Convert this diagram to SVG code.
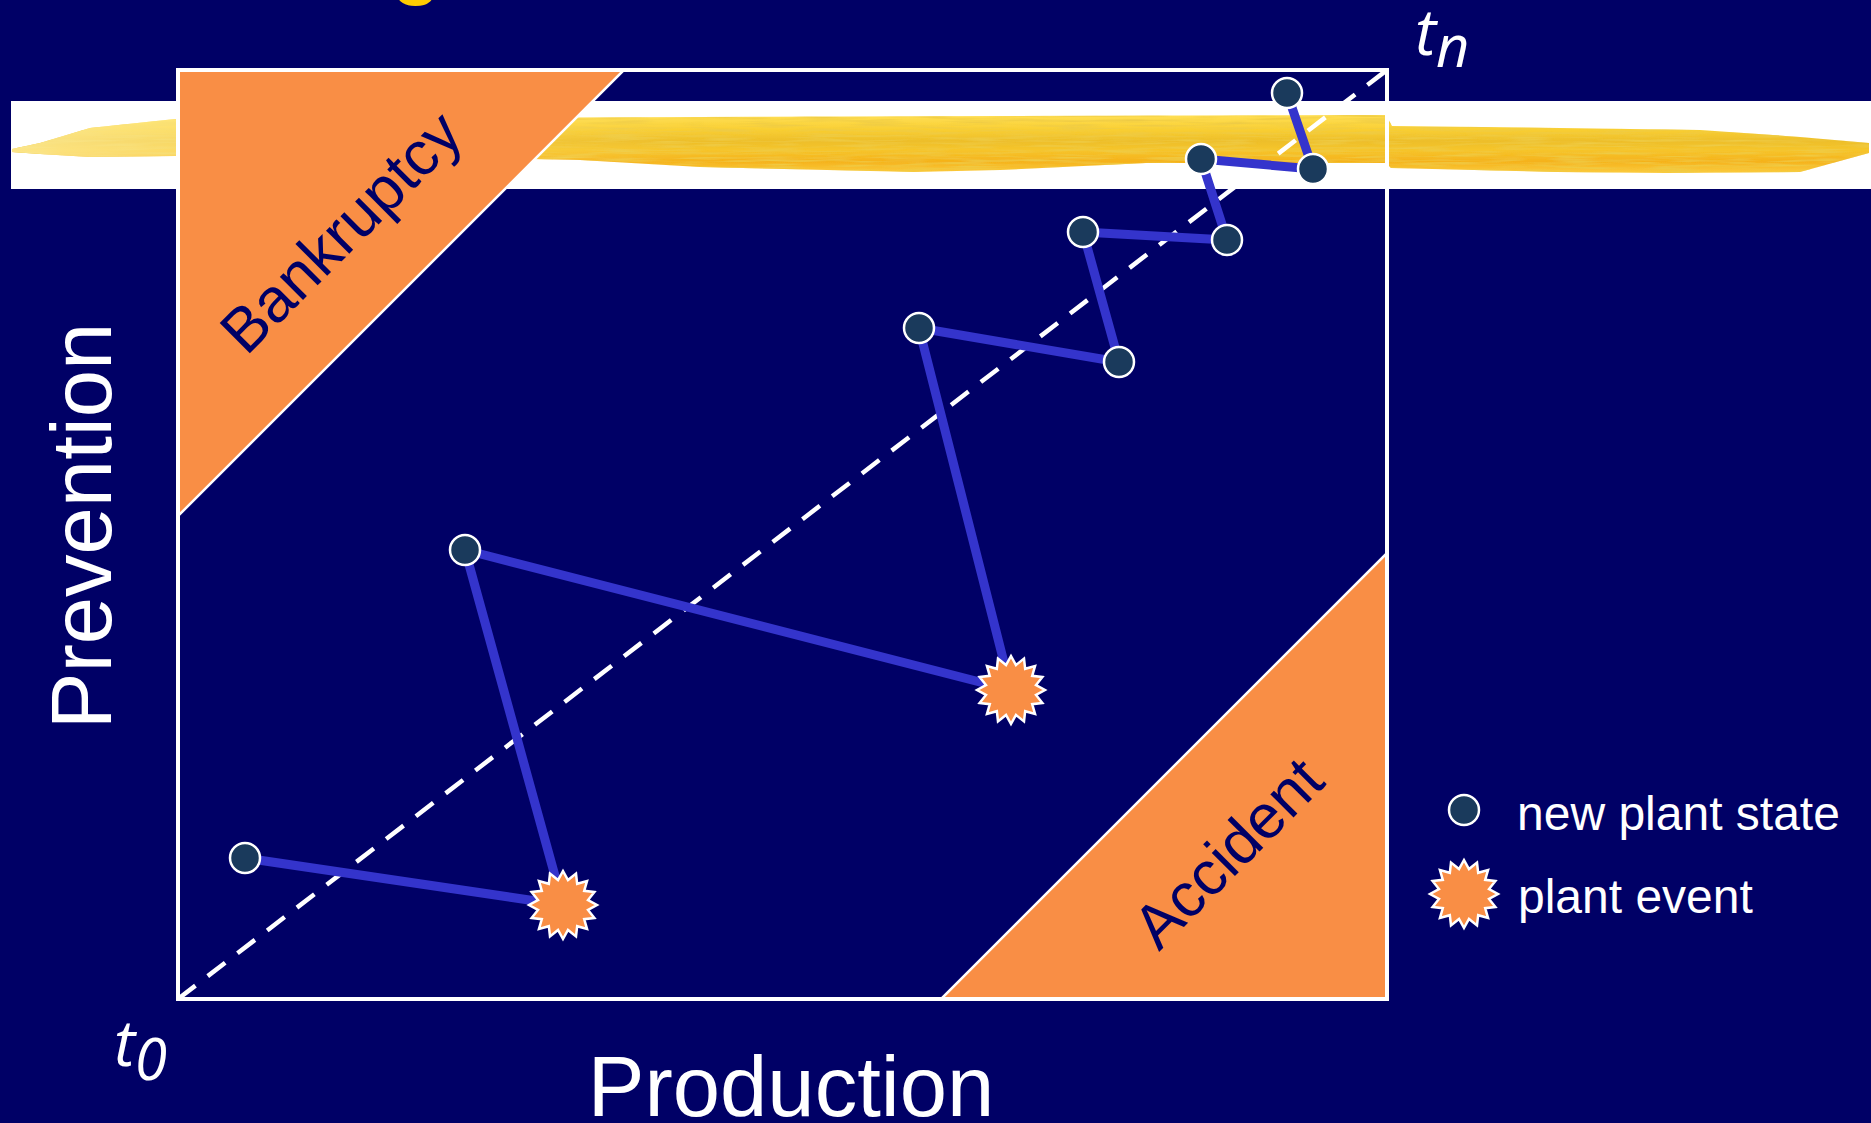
<svg xmlns="http://www.w3.org/2000/svg" xmlns:xlink="http://www.w3.org/1999/xlink" width="1871" height="1123" viewBox="0 0 1871 1123">
  <style>
    .zone { fill: #F98E45; stroke: #FFFFFF; stroke-width: 2.5; stroke-linejoin: miter; }
    .zone-label { font-family: "Liberation Sans", Arial, sans-serif; font-size: 62px; fill: #000066; }
    .axis { font-family: "Liberation Sans", Arial, sans-serif; font-size: 85px; fill: #FFFFFF; }
    .time { font-family: "Open Sans", "DejaVu Sans", sans-serif; font-style: italic; font-size: 64px; fill: #FFFFFF; }
    .legend { font-family: "Liberation Sans", Arial, sans-serif; font-size: 48px; fill: #FFFFFF; }
    .state { fill: #1A3A5C; stroke: #FFFFFF; stroke-width: 2.5; }
    .event { fill: #F98E45; stroke: #FFFFFF; stroke-width: 2.5; stroke-linejoin: miter; }
    .path { stroke: #3434CC; stroke-width: 9; stroke-linecap: round; fill: none; }
  </style>
  <defs>
    <!-- 16-point burst used for plant events -->
    <polygon id="burst" points="0,-34 4.98,-25.01 13.01,-31.41 14.17,-21.2 24.04,-24.04 21.2,-14.17 31.41,-13.01 25.01,-4.98 34,0 25.01,4.98 31.41,13.01 21.2,14.17 24.04,24.04 14.17,21.2 13.01,31.41 4.98,25.01 0,34 -4.98,25.01 -13.01,31.41 -14.17,21.2 -24.04,24.04 -21.2,14.17 -31.41,13.01 -25.01,4.98 -34,0 -25.01,-4.98 -31.41,-13.01 -21.2,-14.17 -24.04,-24.04 -14.17,-21.2 -13.01,-31.41 -4.98,-25.01"/>
    <linearGradient id="brushV" x1="0" y1="0" x2="0" y2="1">
      <stop offset="0" stop-color="#FFDF55"/>
      <stop offset="0.25" stop-color="#F9CF33"/>
      <stop offset="0.45" stop-color="#EDBE2A"/>
      <stop offset="0.6" stop-color="#F6C52C"/>
      <stop offset="0.8" stop-color="#F5B21C"/>
      <stop offset="1" stop-color="#FBCB3E"/>
    </linearGradient>
    <linearGradient id="brushFade" gradientUnits="userSpaceOnUse" x1="0" y1="0" x2="700" y2="0">
      <stop offset="0" stop-color="#FFF3B0" stop-opacity="0.7"/>
      <stop offset="0.6" stop-color="#FFE680" stop-opacity="0.3"/>
      <stop offset="1" stop-color="#FFE680" stop-opacity="0"/>
    </linearGradient>
    <filter id="brushGrain" x="0" y="0" width="1" height="1">
      <feTurbulence type="fractalNoise" baseFrequency="0.02 0.4" numOctaves="2" seed="7" result="noise"/>
      <feColorMatrix in="noise" type="matrix" values="0 0 0 0 0.86  0 0 0 0 0.6  0 0 0 0 0.06  0 0 0 2.4 -1.0" result="tint"/>
      <feComposite in="tint" in2="SourceGraphic" operator="in" result="grain"/>
      <feMerge>
        <feMergeNode in="SourceGraphic"/>
        <feMergeNode in="grain"/>
      </feMerge>
    </filter>
    <path id="stroke" d="M12,149 L40,143 L90,128 L175,119 L400,118 L700,117 L1000,116 L1386,115 L1392,126 L1560,128 L1700,130 L1800,137 L1869,143 L1869,153 L1800,172 L1666,173 L1556,172 L1391,168 L1386,163 L1146,163 L1000,170 L914,172 L700,167 L580,160 L400,156 L175,156 L90,157 L40,154 L12,152 Z"/>
  </defs>

  <!-- slide background -->
  <rect x="0" y="0" width="1871" height="1123" fill="#000066"/>

  <!-- tail of the heading, above the visible area -->
  <text x="392" y="-11" font-family="Liberation Sans, Arial, sans-serif" font-weight="bold" font-size="80" fill="#FFCC00">g</text>

  <!-- highlighted band with brush stroke -->
  <g id="band">
    <rect x="11" y="101" width="1860" height="88" fill="#FFFFFF"/>
    <use xlink:href="#stroke" fill="url(#brushV)" filter="url(#brushGrain)"/>
    <use xlink:href="#stroke" fill="url(#brushFade)"/>
  </g>

  <!-- failure zones -->
  <g id="bankruptcy">
    <polygon class="zone" points="178,70 624,70 178,516"/>
    <text class="zone-label" transform="translate(356,247) rotate(-45)" text-anchor="middle">Bankruptcy</text>
  </g>
  <g id="accident">
    <polygon class="zone" points="1387,553 1387,999 941,999"/>
    <text class="zone-label" transform="translate(1243,868) rotate(-45)" text-anchor="middle">Accident</text>
  </g>

  <!-- plot frame and ideal trajectory -->
  <g id="frame">
    <rect x="178" y="70" width="1209" height="929" fill="none" stroke="#FFFFFF" stroke-width="4"/>
    <line x1="178" y1="999" x2="1387" y2="70" stroke="#FFFFFF" stroke-width="4.5" stroke-dasharray="22 15.5"/>
  </g>

  <!-- trajectory segments -->
  <g id="connectors">
    <line class="path" x1="245" y1="858" x2="563" y2="905"/>
    <line class="path" x1="563" y1="905" x2="465" y2="550"/>
    <line class="path" x1="465" y1="550" x2="1011" y2="690"/>
    <line class="path" x1="1011" y1="690" x2="919" y2="328"/>
    <line class="path" x1="919" y1="328" x2="1119" y2="362"/>
    <line class="path" x1="1119" y1="362" x2="1083" y2="232"/>
    <line class="path" x1="1083" y1="232" x2="1227" y2="240"/>
    <line class="path" x1="1227" y1="240" x2="1201" y2="159"/>
    <line class="path" x1="1201" y1="159" x2="1313" y2="169"/>
    <line class="path" x1="1313" y1="169" x2="1287" y2="93"/>
  </g>

  <!-- plant states and events -->
  <g id="state-1"><circle class="state" cx="245" cy="858" r="15"/></g>
  <g id="event-1"><use xlink:href="#burst" class="event" x="563" y="905"/></g>
  <g id="state-2"><circle class="state" cx="465" cy="550" r="15"/></g>
  <g id="event-2"><use xlink:href="#burst" class="event" x="1011" y="690"/></g>
  <g id="state-3"><circle class="state" cx="919" cy="328" r="15"/></g>
  <g id="state-4"><circle class="state" cx="1119" cy="362" r="15"/></g>
  <g id="state-5"><circle class="state" cx="1083" cy="232" r="15"/></g>
  <g id="state-6"><circle class="state" cx="1227" cy="240" r="15"/></g>
  <g id="state-7"><circle class="state" cx="1201" cy="159" r="15"/></g>
  <g id="state-8"><circle class="state" cx="1313" cy="169" r="15"/></g>
  <g id="state-9"><circle class="state" cx="1287" cy="93" r="15"/></g>

  <!-- axes and time marks -->
  <g id="axis-labels">
    <text class="axis" transform="translate(111,526) rotate(-90)" text-anchor="middle">Prevention</text>
    <text class="axis" x="791" y="1116" text-anchor="middle">Production</text>
    <text class="time" x="114" y="1066">t<tspan font-size="58" dy="14">0</tspan></text>
    <text class="time" x="1415" y="55">t<tspan font-size="58" dy="12">n</tspan></text>
  </g>

  <!-- legend -->
  <g id="legend">
    <circle class="state" cx="1464" cy="810" r="15"/>
    <text class="legend" x="1517" y="830">new plant state</text>
    <use xlink:href="#burst" class="event" x="1464" y="894"/>
    <text class="legend" x="1518" y="913">plant event</text>
  </g>
</svg>
